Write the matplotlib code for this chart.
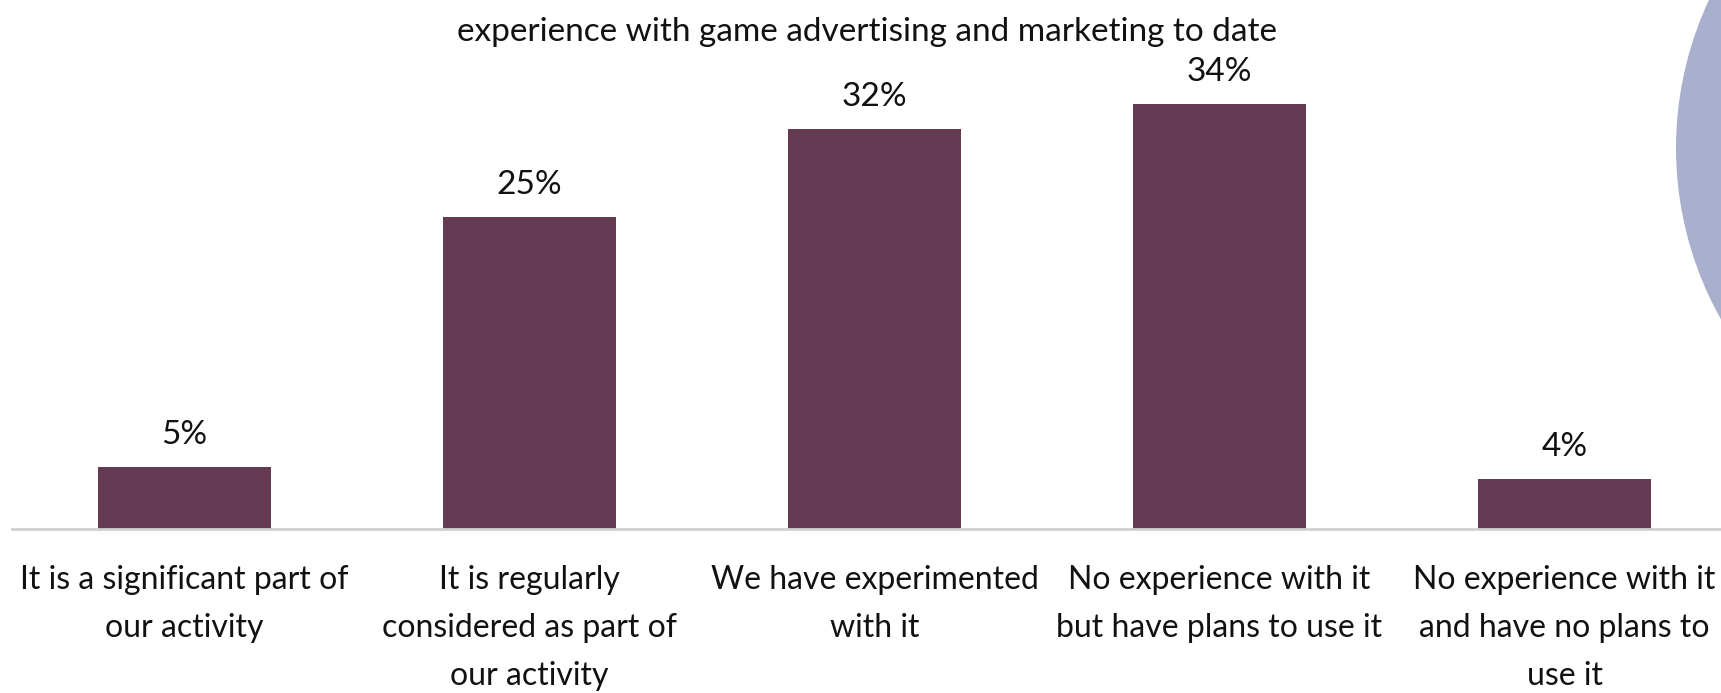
import matplotlib
matplotlib.use("Agg")
import matplotlib.pyplot as plt
from matplotlib.patches import Circle

plt.rcParams['font.family'] = ['Lato', 'DejaVu Sans']

title = "experience with game advertising and marketing to date"
categories = [
    "It is a significant part of\nour activity",
    "It is regularly\nconsidered as part of\nour activity",
    "We have experimented\nwith it",
    "No experience with it\nbut have plans to use it",
    "No experience with it\nand have no plans to\nuse it",
]
values = [5, 25, 32, 34, 4]
value_labels = ["5%", "25%", "32%", "34%", "4%"]

bar_color = "#633A51"
W, H = 1721, 693

fig = plt.figure(figsize=(W / 100, H / 100), dpi=100)
fig.patch.set_facecolor("white")

# decorative disc at the right edge
fig.patches.append(Circle((20.25, 5.45), 3.49, transform=fig.dpi_scale_trans,
                          facecolor="#A9B0CD", edgecolor="none", zorder=0))

# axes reaches past the right edge so the last bar keeps its full slot
ax = fig.add_axes([12 / W, 164 / H, 1725 / W, 500 / H])
ax.patch.set_alpha(0)
x = range(len(values))
ax.bar(x, values, width=0.5, color=bar_color, zorder=2)
ax.set_xlim(-0.5, 4.5)
ax.set_ylim(0, 40)

for xi, v, lab in zip(x, values, value_labels):
    ax.annotate(lab, (xi, v), xytext=(0, 12), textcoords="offset points",
                ha="center", va="bottom", fontsize=24, color="#111111")

ax.set_xticks(list(x))
ax.set_xticklabels(categories, fontsize=23, linespacing=1.75, color="#111111")
ax.tick_params(axis="x", length=0, pad=26)
ax.set_yticks([])
for s in ["top", "right", "left"]:
    ax.spines[s].set_visible(False)
ax.spines["bottom"].set_color("#D0D0D0")
ax.spines["bottom"].set_linewidth(2)

fig.text(867 / W, 1 - 32 / H, title, ha="center", va="center",
         fontsize=24, color="#111111")

fig.savefig("out.png", dpi=100)
